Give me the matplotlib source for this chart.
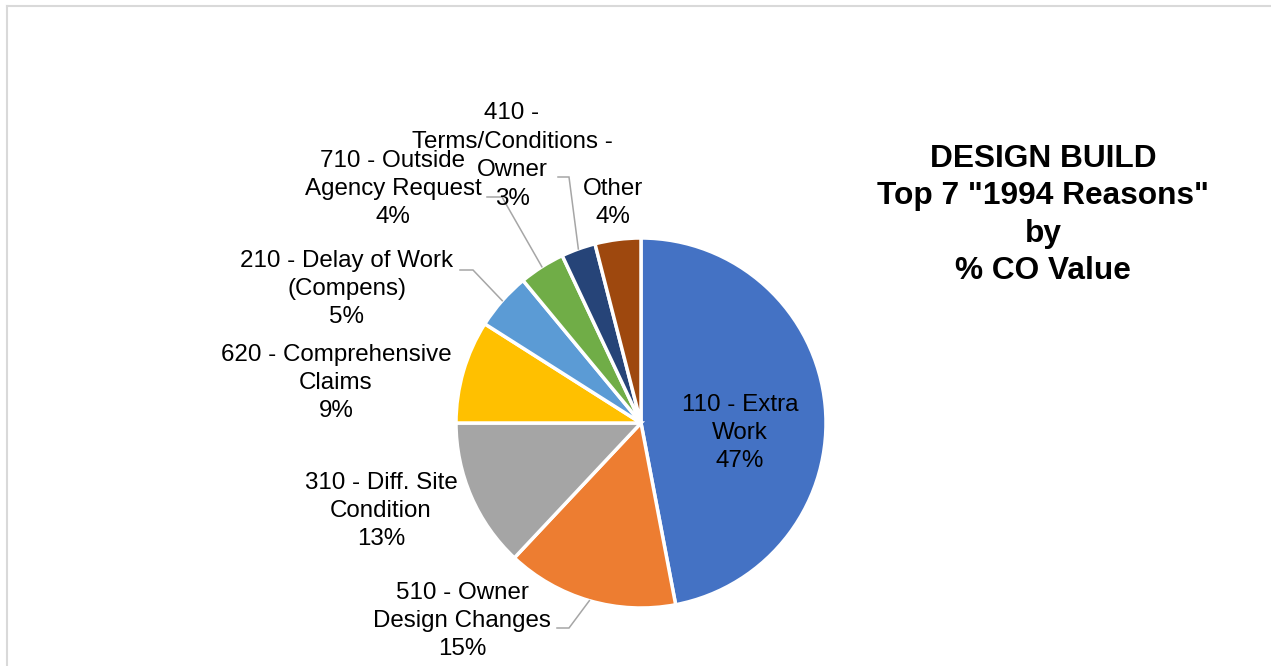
import matplotlib.pyplot as plt
import numpy as np

# chart data
labels = ["110 - Extra\nWork", "510 - Owner\nDesign Changes", "310 - Diff. Site\nCondition",
          "620 - Comprehensive\nClaims", "210 - Delay of Work\n(Compens)", "710 - Outside\nAgency Request",
          "410 -\nTerms/Conditions -\nOwner", "Other"]
percents = [47, 15, 13, 9, 5, 4, 3, 4]
colors = ["#4472C4", "#ED7D31", "#A5A5A5", "#FFC000", "#5B9BD5", "#70AD47", "#264478", "#9E480E"]
title = 'DESIGN BUILD\nTop 7 "1994 Reasons"\nby\n% CO Value'

W, H = 1271, 666
plt.rcParams['font.family'] = ['Liberation Sans', 'DejaVu Sans']

fig = plt.figure(figsize=(W / 100, H / 100), dpi=100)
ax = fig.add_axes([0, 0, 1, 1])

cx, cy, R = 641, H - 423, 185
wedges, _ = ax.pie(percents, colors=colors, startangle=90, counterclock=False,
                   center=(cx, cy), radius=R,
                   wedgeprops=dict(edgecolor="white", linewidth=2.5))

# label positions (pixel coords, y down) and leader line elbows
label_pos = [(740, 433), (462, 621), (381, 511), (336, 383), (347, 289), (393, 189), (512, 156), (613, 203)]
leaders = {1: [(557, 628), (569, 628)], 4: [(460, 270), (473, 270)],
           5: [(487, 197), (502, 197)], 6: [(558, 177), (569, 177)]}

for i, (w, lab, p) in enumerate(zip(wedges, labels, percents)):
    x, y = label_pos[i]
    ax.text(x, H - y, f"{lab}\n{p}%", ha="center", va="center", fontsize=17.4,
            linespacing=1.38, color="black")
    if i in leaders:
        ang = np.deg2rad((w.theta1 + w.theta2) / 2)
        px, py = cx + R * np.cos(ang), cy + R * np.sin(ang)
        pts = leaders[i]
        xs = [pts[0][0], pts[1][0], px]
        ys = [H - pts[0][1], H - pts[1][1], py]
        ax.plot(xs, ys, color="#A6A6A6", lw=1.1, solid_joinstyle="miter")

ax.text(1043, H - 215, title, ha="center", va="center", fontsize=22.8,
        fontweight="bold", linespacing=1.32, color="black")

# chart area border (only top/left visible in crop)
ax.plot([6.5, 6.5], [0, H - 5.5], color="#D9D9D9", lw=1.5)
ax.plot([6.5, W], [H - 5.5, H - 5.5], color="#D9D9D9", lw=1.5)

ax.set_xlim(0, W)
ax.set_ylim(0, H)
ax.set_aspect("equal")
ax.axis("off")

fig.savefig("out.png", dpi=100)
